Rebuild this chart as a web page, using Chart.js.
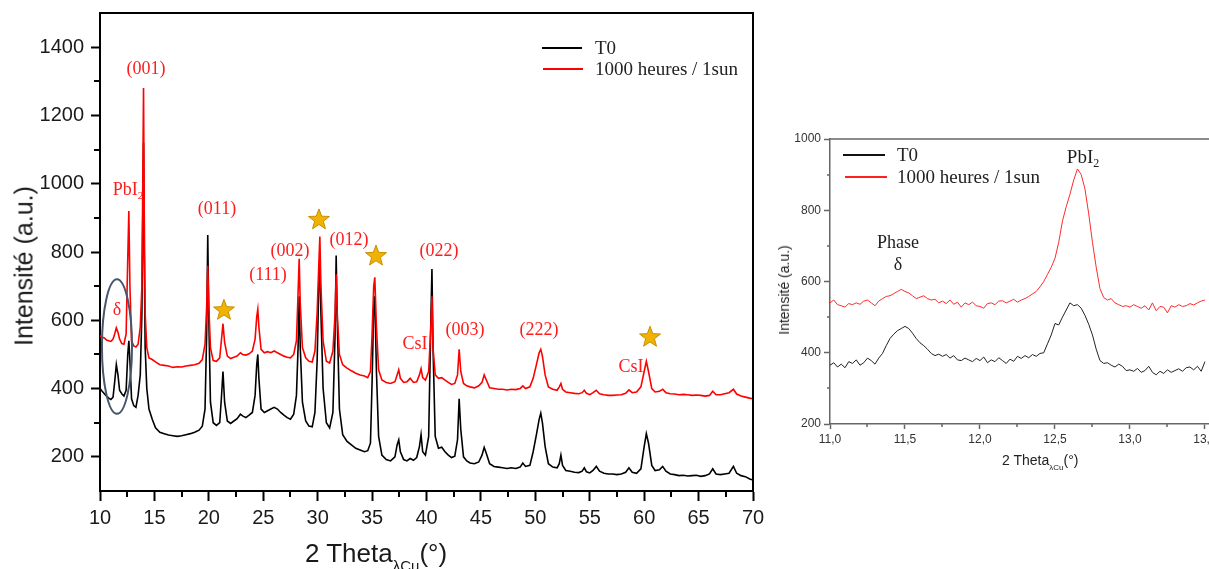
<!DOCTYPE html>
<html>
<head>
<meta charset="utf-8">
<script src="https://cdn.jsdelivr.net/npm/chart.js@4.4.1/dist/chart.umd.min.js"></script>
<style>
body { margin: 0; background: #fff; width: 1209px; height: 569px; overflow: hidden; position: relative; }
canvas { position: absolute; top: 0; }
#main-canvas { left: 0; }
#zoom-canvas { left: 770px; }
.txt { position: absolute; white-space: nowrap; font-family: 'Liberation Sans', Arial, sans-serif; color: #1a1a1a; }
.serif { font-family: 'Liberation Serif', 'Times New Roman', serif; color: #222; }
.rot { transform: translate(-50%, -50%) rotate(-90deg); }
.sub { position: relative; }
.key { position: absolute; height: 2px; }
</style>
</head>
<body>
<canvas id="main-canvas" width="770" height="569"></canvas>
<canvas id="zoom-canvas" width="439" height="569"></canvas>

<!-- axis titles -->
<div class="txt rot" style="left:24px; top:266px; font-size:25px;">Intensité (a.u.)</div>
<div class="txt" style="left:305px; top:538px; font-size:26px; line-height:30px;">2 Theta<span class="sub" style="font-size:15px; top:9px;">λCu</span>(°)</div>
<div class="txt rot" style="left:784px; top:290px; font-size:14px; color:#222;">Intensité (a.u.)</div>
<div class="txt" style="left:1002px; top:451px; font-size:14px; line-height:18px; color:#222;">2 Theta<span class="sub" style="font-size:8px; top:5px;">λCu</span>(°)</div>

<!-- legends -->
<div class="key" style="left:542px; top:47px; width:40px; background:#000;"></div>
<div class="txt serif" style="left:595px; top:37px; font-size:19px; line-height:22px;">T0</div>
<div class="key" style="left:543px; top:68px; width:40px; background:#ff0000;"></div>
<div class="txt serif" style="left:595px; top:58px; font-size:19px; line-height:22px;">1000 heures / 1sun</div>

<div class="key" style="left:843px; top:154px; width:42px; background:#111;"></div>
<div class="txt serif" style="left:897px; top:144px; font-size:19px; line-height:22px;">T0</div>
<div class="key" style="left:845px; top:176px; width:42px; background:#ff2020;"></div>
<div class="txt serif" style="left:897px; top:166px; font-size:19px; line-height:22px;">1000 heures / 1sun</div>

<script>
// ---- full pattern 10-70 deg ----
var angle = [
	10.0, 10.2, 10.4, 10.6, 10.8, 11.0, 11.2, 11.35, 11.5, 11.65, 11.8, 12.0, 12.2, 12.4, 12.55, 12.65, 12.75, 12.9, 13.1, 13.3, 13.5, 13.7, 13.85, 13.93, 14.0, 14.07, 14.15, 14.3, 14.5,
	14.8, 15.1, 15.5, 15.9, 16.3, 16.7, 17.1, 17.5, 17.9, 18.3, 18.7, 19.1, 19.4, 19.65, 19.8, 19.9, 20.0, 20.15, 20.4, 20.7,
	21.0, 21.15, 21.3, 21.45, 21.7, 22.0, 22.3, 22.6, 22.9, 23.1, 23.4, 23.7, 24.0, 24.25, 24.4, 24.5, 24.6, 24.8, 25.1, 25.4, 25.7, 26.0, 26.3, 26.6, 26.9, 27.2, 27.5, 27.8,
	28.05, 28.2, 28.3, 28.4, 28.6, 28.9, 29.2, 29.5, 29.75, 29.95, 30.1, 30.2, 30.3, 30.5, 30.8, 31.1, 31.4, 31.6, 31.7, 31.8, 32.0, 32.3, 32.7, 33.1, 33.5, 33.9, 34.3, 34.6,
	34.85, 35.0, 35.15, 35.25, 35.4, 35.6, 35.9, 36.3, 36.7, 37.1, 37.3, 37.45, 37.6, 37.9, 38.2, 38.5, 38.8, 39.1, 39.35, 39.5, 39.65, 39.9, 40.2, 40.4, 40.5, 40.6, 40.8, 41.1, 41.4, 41.7, 42.0, 42.3, 42.6, 42.85, 43.0, 43.15, 43.4, 43.7, 44.0, 44.4, 44.8,
	45.1, 45.3, 45.5, 45.8, 46.2, 46.6, 47.0, 47.4, 47.8, 48.2, 48.6, 48.85, 49.1, 49.5, 49.8, 50.1, 50.35, 50.5, 50.65, 50.9, 51.2, 51.6, 52.0, 52.2, 52.35, 52.5, 52.8, 53.2, 53.6, 54.0, 54.3, 54.5, 54.7,
	55.0, 55.3, 55.6, 55.9, 56.3, 56.7, 57.1, 57.5, 57.9, 58.3, 58.6, 58.9, 59.3, 59.7, 60.0, 60.2, 60.4, 60.7, 61.0, 61.4, 61.7, 62.0, 62.4, 62.8, 63.2, 63.6, 64.0, 64.4, 64.8, 65.2, 65.6, 66.0, 66.3, 66.6, 67.0, 67.4, 67.8, 68.2, 68.5, 68.9, 69.3, 69.7, 70.0
];
var t0Intensity = [
	400, 392, 385, 378, 372, 368, 375, 420, 470, 440, 395, 385, 378, 395, 500, 540, 480, 370, 350, 345, 380, 440, 620, 900, 1120, 780, 520, 400, 340,
	310, 285, 272, 268, 264, 262, 260, 262, 265, 268, 272, 278, 290, 340, 560, 850, 600, 360, 300, 292,
	300, 370, 450, 360, 305, 298, 305, 312, 325, 320, 315, 322, 330, 380, 470, 500, 430, 340, 330, 335, 340, 345, 340, 330, 322, 315, 310, 325,
	380, 520, 670, 520, 360, 305, 290, 288, 330, 480, 700, 780, 620, 400, 300, 285, 330, 560, 790, 600, 340, 265, 245, 235, 225, 220, 215, 218,
	240, 420, 640, 670, 450, 260, 205, 192, 188, 200, 235, 250, 215, 192, 188, 195, 190, 198, 230, 265, 215, 205, 260, 600, 750, 520, 260, 225, 228, 215, 205, 198, 202, 250, 370, 280, 200, 188, 182, 180, 185,
	205, 228, 210, 180, 172, 170, 168, 166, 168, 166, 170, 182, 172, 175, 215, 265, 310, 328, 300, 230, 180, 170, 168, 180, 205, 175, 160, 158, 155, 154, 158, 168, 156,
	153, 160, 172, 158, 152, 150, 150, 148, 150, 155, 168, 155, 152, 165, 230, 268, 240, 175, 160, 162, 172, 158, 150, 148, 145, 146, 144, 145, 146, 143, 145, 150, 165, 150, 148, 150, 152, 172, 152, 145, 142, 135, 132
];
var agedIntensity = [
	555, 550, 548, 542, 540, 538, 545, 560, 578, 565, 545, 532, 530, 560, 780, 920, 700, 540, 525, 522, 530, 580, 700, 1000, 1280, 900, 620, 520, 490,
	485, 478, 470, 468, 466, 462, 464, 463, 466, 468, 470, 474, 485, 530, 640, 760, 640, 520, 482, 480,
	490, 540, 590, 535, 495, 488, 492, 495, 505, 500, 498, 502, 510, 545, 610, 632, 580, 515, 505, 508, 505, 510, 505, 500, 495, 492, 490, 500,
	540, 680, 780, 650, 520, 490, 480, 478, 510, 620, 760, 845, 700, 540, 480, 475, 510, 620, 735, 620, 500, 470, 460, 452, 445, 440, 437, 432,
	450, 560, 700, 726, 580, 455, 425, 418, 415, 420, 440, 455, 430, 418, 420, 430, 418, 420, 440, 458, 432, 425, 450, 580, 670, 520, 440, 430, 432, 425, 418, 412, 415, 440, 515, 450, 415, 408, 405, 402, 408,
	418, 440, 425, 402, 400, 398, 398, 396, 398, 397, 400, 408, 400, 405, 430, 470, 505, 515, 495, 440, 405, 398, 395, 405, 415, 398, 390, 388, 386, 385, 388, 395, 386,
	382, 388, 395, 385, 382, 380, 380, 381, 382, 386, 396, 388, 390, 405, 450, 480, 450, 400, 390, 392, 398, 388, 385, 384, 382, 383, 382, 380, 381, 380, 378, 380, 392, 382, 382, 385, 388, 398, 384, 378, 375, 372, 370
];
var mainXTicks = [10, 15, 20, 25, 30, 35, 40, 45, 50, 55, 60, 65, 70];
var mainYTicks = [200, 400, 600, 800, 1000, 1200, 1400];

// ---- zoom 11-13.5 deg ----
var zoomAngle = [
	11, 11.025, 11.05, 11.075, 11.1, 11.125, 11.15, 11.175, 11.2, 11.225,
	11.25, 11.275, 11.3, 11.325, 11.35, 11.375, 11.4, 11.425, 11.45, 11.475,
	11.5, 11.525, 11.55, 11.575, 11.6, 11.625, 11.65, 11.675, 11.7, 11.725,
	11.75, 11.775, 11.8, 11.825, 11.85, 11.875, 11.9, 11.925, 11.95, 11.975,
	12, 12.025, 12.05, 12.075, 12.1, 12.125, 12.15, 12.175, 12.2, 12.225,
	12.25, 12.275, 12.3, 12.325, 12.35, 12.375, 12.4, 12.425, 12.45, 12.475,
	12.5, 12.525, 12.55, 12.575, 12.6, 12.625, 12.65, 12.675, 12.7, 12.725,
	12.75, 12.775, 12.8, 12.825, 12.85, 12.875, 12.9, 12.925, 12.95, 12.975,
	13, 13.025, 13.05, 13.075, 13.1, 13.125, 13.15, 13.175, 13.2, 13.225,
	13.25, 13.275, 13.3, 13.325, 13.35, 13.375, 13.4, 13.425, 13.45, 13.475,
	13.5
];
var zoomT0 = [
	365, 372, 360, 368, 358, 375, 370, 380, 365, 372,
	385, 378, 368, 385, 398, 420, 440, 452, 462, 468,
	474, 468, 455, 440, 428, 420, 410, 398, 392, 396,
	390, 395, 385, 392, 380, 378, 385, 380, 375, 384,
	378, 388, 372, 380, 375, 386, 378, 370, 382, 376,
	390, 384, 392, 386, 395, 390, 398, 400, 425, 450,
	482, 478, 500, 520, 540, 532, 535, 525, 505, 480,
	450, 410, 378, 370, 372, 365, 360, 368, 362, 350,
	352, 348, 356, 345, 350, 362, 345, 338, 348, 342,
	352, 345, 350, 355, 348, 358, 360, 352, 362, 348,
	375
];
var zoomAged = [
	540, 548, 535, 532, 528, 538, 535, 540, 536, 545,
	548, 540, 532, 545, 552, 558, 560, 566, 572, 578,
	572, 568, 560, 552, 556, 560, 552, 548, 550, 540,
	545, 538, 548, 536, 542, 528, 540, 535, 542, 532,
	530, 525, 538, 540, 535, 545, 546, 540, 545, 550,
	542, 548, 552, 558, 565, 572, 585, 600, 620, 640,
	665, 710, 770, 810, 845, 885, 916, 900, 860, 790,
	710, 640, 580, 555, 548, 552, 540, 535, 530, 532,
	528, 535, 530, 525, 532, 520, 540, 518, 530, 528,
	512, 532, 528, 535, 530, 532, 538, 534, 540, 545,
	548
];
var zoomXTicks = [11, 11.5, 12, 12.5, 13, 13.5];
var zoomYTicks = [200, 400, 600, 800, 1000];

// annotations (data units)
var mainLabels = [
	{ text: '(001)', x: 14.23, y: 1335 },
	{ text: '(011)', x: 20.75, y: 926 },
	{ text: '(111)', x: 25.44, y: 732 },
	{ text: '(002)', x: 27.46, y: 803 },
	{ text: '(012)', x: 32.88, y: 835 },
	{ text: '(022)', x: 41.15, y: 803 },
	{ text: 'CsI', x: 38.94, y: 529 },
	{ text: '(003)', x: 43.54, y: 571 },
	{ text: '(222)', x: 50.34, y: 571 },
	{ text: 'CsI', x: 58.79, y: 462 },
	{ text: 'δ', x: 11.56, y: 629 }
];
var mainStars = [
	{ x: 21.39, y: 629 },
	{ x: 30.12, y: 894 },
	{ x: 35.36, y: 788 },
	{ x: 60.54, y: 550 }
];

function toPoints(xs, ys) {
	return xs.map(function(x, i) { return { x: x, y: ys[i] }; });
}

function drawStar(ctx, cx, cy, R, r) {
	ctx.beginPath();
	for (var i = 0; i < 10; i++) {
		var a = -Math.PI / 2 + i * Math.PI / 5;
		var rad = (i % 2) ? r : R;
		ctx.lineTo(cx + rad * Math.cos(a), cy + rad * Math.sin(a));
	}
	ctx.closePath();
	ctx.fillStyle = '#f2b203';
	ctx.strokeStyle = '#c49000';
	ctx.lineWidth = 1;
	ctx.fill();
	ctx.stroke();
}

function drawPbI2(ctx, cx, cy, size, color) {
	ctx.fillStyle = color;
	ctx.textBaseline = 'middle';
	ctx.textAlign = 'left';
	ctx.font = size + 'px "Liberation Serif"';
	var w1 = ctx.measureText('PbI').width;
	ctx.font = Math.round(size * 0.62) + 'px "Liberation Serif"';
	var w2 = ctx.measureText('2').width;
	var start = cx - (w1 + w2) / 2;
	ctx.font = size + 'px "Liberation Serif"';
	ctx.fillText('PbI', start, cy);
	ctx.font = Math.round(size * 0.62) + 'px "Liberation Serif"';
	ctx.fillText('2', start + w1, cy + size * 0.32);
}

function minorTicks(ctx, chart, xVals, yVals, len, color, width) {
	var a = chart.chartArea, xs = chart.scales.x, ys = chart.scales.y;
	ctx.strokeStyle = color;
	ctx.lineWidth = width;
	ctx.beginPath();
	xVals.forEach(function(v) {
		var px = Math.round(xs.getPixelForValue(v));
		ctx.moveTo(px, a.bottom);
		ctx.lineTo(px, a.bottom + len);
	});
	yVals.forEach(function(v) {
		var py = Math.round(ys.getPixelForValue(v));
		ctx.moveTo(a.left, py);
		ctx.lineTo(a.left - len, py);
	});
	ctx.stroke();
}

var mainDecor = {
	id: 'mainDecor',
	afterDraw: function(chart) {
		var ctx = chart.ctx, a = chart.chartArea, xs = chart.scales.x, ys = chart.scales.y;
		ctx.save();
		// top and right frame
		ctx.strokeStyle = '#000';
		ctx.lineWidth = 2;
		ctx.beginPath();
		ctx.moveTo(a.left, a.top);
		ctx.lineTo(a.right, a.top);
		ctx.lineTo(a.right, a.bottom);
		ctx.stroke();

		minorTicks(ctx, chart, [12.5, 17.5, 22.5, 27.5, 32.5, 37.5, 42.5, 47.5, 52.5, 57.5, 62.5, 67.5],
			[300, 500, 700, 900, 1100, 1300], 6, '#000', 2);

		// delta ellipse
		var cx = xs.getPixelForValue(11.56), cy = ys.getPixelForValue(523);
		var rx = xs.getPixelForValue(11.56 + 1.38) - cx;
		var ry = cy - ys.getPixelForValue(523 + 197);
		ctx.beginPath();
		ctx.ellipse(cx, cy, rx, ry, 0, 0, Math.PI * 2);
		ctx.strokeStyle = '#47566b';
		ctx.lineWidth = 2;
		ctx.stroke();

		// peak labels
		ctx.fillStyle = '#ff1c1c';
		ctx.textAlign = 'center';
		ctx.textBaseline = 'middle';
		ctx.font = '18px "Liberation Serif"';
		mainLabels.forEach(function(l) {
			ctx.fillText(l.text, xs.getPixelForValue(l.x), ys.getPixelForValue(l.y));
		});
		drawPbI2(ctx, xs.getPixelForValue(12.57), ys.getPixelForValue(982), 18, '#ff1c1c');

		mainStars.forEach(function(s) {
			drawStar(ctx, xs.getPixelForValue(s.x), ys.getPixelForValue(s.y), 11, 4.6);
		});
		ctx.restore();
	}
};

var zoomDecor = {
	id: 'zoomDecor',
	afterDraw: function(chart) {
		var ctx = chart.ctx, a = chart.chartArea, xs = chart.scales.x, ys = chart.scales.y;
		ctx.save();
		ctx.strokeStyle = '#666';
		ctx.lineWidth = 1.5;
		ctx.beginPath();
		ctx.moveTo(a.left, a.top);
		ctx.lineTo(a.right, a.top);
		ctx.stroke();

		minorTicks(ctx, chart, [11.25, 11.75, 12.25, 12.75, 13.25], [300, 500, 700, 900], 3, '#666', 1.5);

		ctx.fillStyle = '#1e1e1e';
		ctx.textAlign = 'center';
		ctx.textBaseline = 'middle';
		ctx.font = '18px "Liberation Serif"';
		ctx.fillText('Phase', xs.getPixelForValue(11.453), ys.getPixelForValue(708));
		ctx.fillText('δ', xs.getPixelForValue(11.453), ys.getPixelForValue(646));
		drawPbI2(ctx, xs.getPixelForValue(12.687), ys.getPixelForValue(947), 19, '#1e1e1e');
		ctx.restore();
	}
};

function fixedTicks(list) {
	return function(scale) {
		scale.ticks = list.map(function(v) { return { value: v }; });
	};
}

function fixBox(w, h) {
	return function(scale) {
		if (w !== null) scale.width = w;
		if (h !== null) scale.height = h;
		scale.paddingLeft = 0;
		scale.paddingRight = 0;
		scale.paddingTop = 0;
		scale.paddingBottom = 0;
	};
}

function plainLabel(v) {
	return String(v);
}

new Chart(document.getElementById('main-canvas'), {
	type: 'line',
	data: {
		datasets: [{
			label: '1000 heures / 1sun',
			data: toPoints(angle, agedIntensity),
			borderColor: '#ff0000',
			borderWidth: 1.6,
			pointRadius: 0,
			tension: 0,
			order: 0
		}, {
			label: 'T0',
			data: toPoints(angle, t0Intensity),
			borderColor: '#000000',
			borderWidth: 1.6,
			pointRadius: 0,
			tension: 0,
			order: 1
		}]
	},
	options: {
		responsive: false,
		animation: false,
		layout: { padding: { left: 0, top: 13, right: 17, bottom: 0 } },
		plugins: { legend: { display: false }, tooltip: { enabled: false } },
		scales: {
			x: {
				type: 'linear', min: 10, max: 70,
				afterBuildTicks: fixedTicks(mainXTicks),
				afterFit: fixBox(null, 78),
				border: { color: '#000', width: 2 },
				grid: { drawOnChartArea: false, tickLength: 10, color: '#000', tickWidth: 2 },
				ticks: { color: '#1a1a1a', font: { family: 'Liberation Sans', size: 20 }, padding: 5, maxRotation: 0, autoSkip: false, callback: plainLabel }
			},
			y: {
				type: 'linear', min: 100, max: 1500,
				afterBuildTicks: fixedTicks(mainYTicks),
				afterFit: fixBox(100, null),
				border: { color: '#000', width: 2 },
				grid: { drawOnChartArea: false, tickLength: 9, color: '#000', tickWidth: 2 },
				ticks: { color: '#1a1a1a', font: { family: 'Liberation Sans', size: 20 }, padding: 7, callback: plainLabel }
			}
		}
	},
	plugins: [mainDecor]
});

new Chart(document.getElementById('zoom-canvas'), {
	type: 'line',
	data: {
		datasets: [{
			label: '1000 heures / 1sun',
			data: toPoints(zoomAngle, zoomAged),
			borderColor: '#ff2a2a',
			borderWidth: 1,
			pointRadius: 0,
			tension: 0
		}, {
			label: 'T0',
			data: toPoints(zoomAngle, zoomT0),
			borderColor: '#222222',
			borderWidth: 1,
			pointRadius: 0,
			tension: 0
		}]
	},
	options: {
		responsive: false,
		animation: false,
		layout: { padding: { left: 0, top: 139, right: 0, bottom: 0 } },
		plugins: { legend: { display: false }, tooltip: { enabled: false } },
		scales: {
			x: {
				type: 'linear', min: 11, max: 13.527,
				afterBuildTicks: fixedTicks(zoomXTicks),
				afterFit: fixBox(null, 145),
				border: { color: '#666', width: 1.5 },
				grid: { drawOnChartArea: false, tickLength: 5, color: '#666', tickWidth: 1.5 },
				ticks: {
					color: '#333', font: { family: 'Liberation Sans', size: 12 }, padding: 3, maxRotation: 0, autoSkip: false,
					callback: function(v) { return v.toFixed(1).replace('.', ','); }
				}
			},
			y: {
				type: 'linear', min: 200, max: 1000,
				afterBuildTicks: fixedTicks(zoomYTicks),
				afterFit: fixBox(60, null),
				border: { color: '#666', width: 1.5 },
				grid: { drawOnChartArea: false, tickLength: 6, color: '#666', tickWidth: 1.5 },
				ticks: { color: '#333', font: { family: 'Liberation Sans', size: 12 }, padding: 3, callback: plainLabel }
			}
		}
	},
	plugins: [zoomDecor]
});
</script>
</body>
</html>
